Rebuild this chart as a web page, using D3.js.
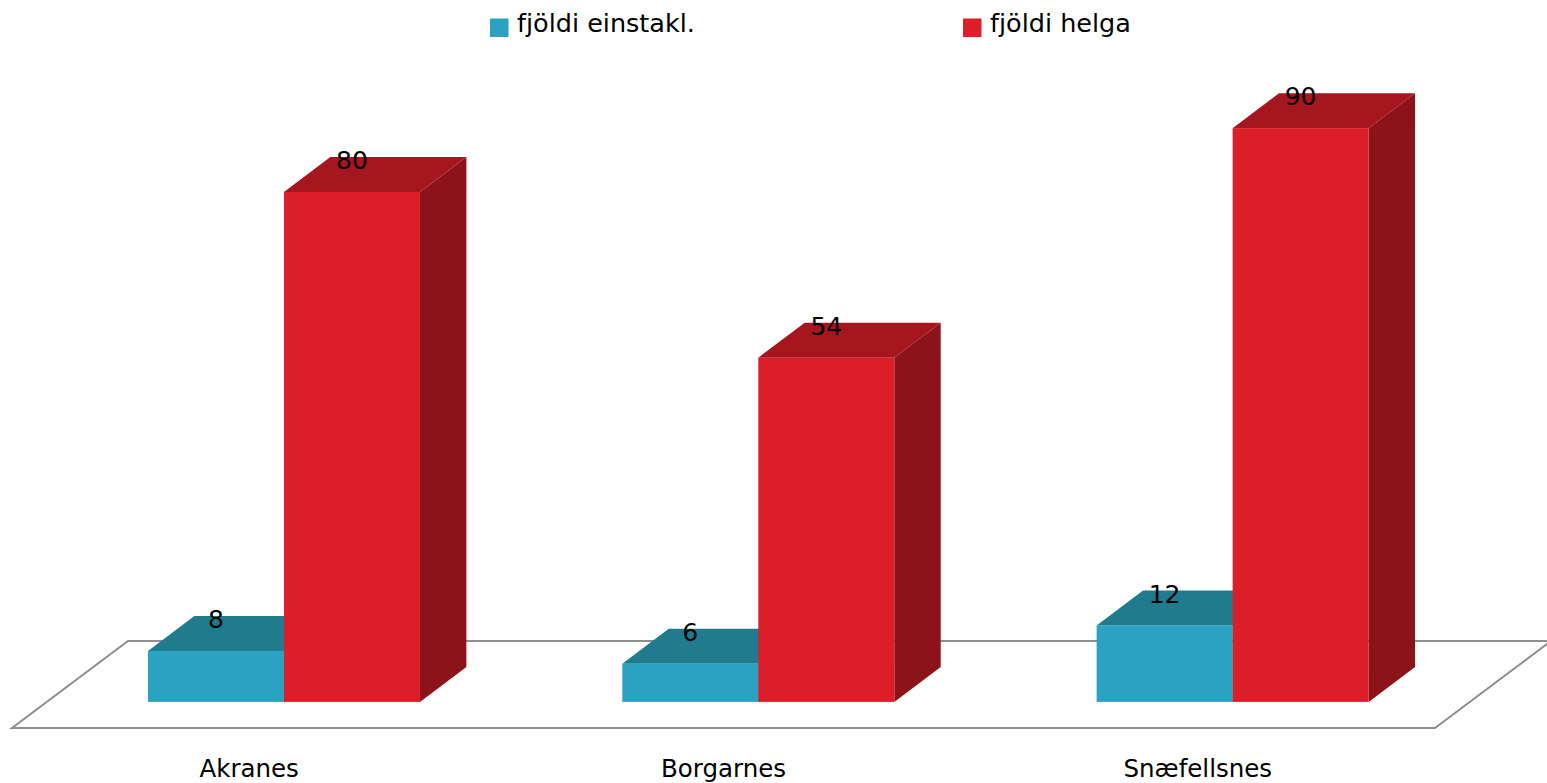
<!DOCTYPE html>
<html><head><meta charset="utf-8">
<script src="https://cdn.jsdelivr.net/npm/d3@7"></script>
<style>html,body{margin:0;padding:0;background:#fff;}svg{display:block;}</style>
</head><body>
<svg id="chart" width="1547" height="783"></svg>
<script>
const categories = ["Akranes", "Borgarnes", "Snæfellsnes"];
const seriesNames = ["fjöldi einstakl.", "fjöldi helga"];
const einstakl = [8, 6, 12];
const helga = [80, 54, 90];

const colors = [
  {front: "#2ba2c1", top: "#217b8f", side: "#1c6a7c"},
  {front: "#dc1e28", top: "#a6161f", side: "#8c1319"}
];
const values = [einstakl, helga];

const svg = d3.select("#chart");
const font = "DejaVu Sans, Verdana, sans-serif";

// floor geometry (front edge, depth offset)
const floorFront = 728, floorDX = 116, floorDY = 87;
const x = d3.scaleBand().domain(categories).range([12, 1435]).padding(0);
const frontFrac = 0.3, depthFrac = 0.4;
const sx = floorDX * frontFrac, sy = floorDY * frontFrac; // shift to bar front plane
const bdx = floorDX * depthFrac, bdy = floorDY * depthFrac;
const baseY = floorFront - sy;
const y = d3.scaleLinear().domain([0, 100]).range([baseY, baseY - 637.5]);
const barW = 136;

// floor
const [x0, x1] = x.range();
svg.append("path")
  .attr("d", `M${x0},${floorFront}L${x1},${floorFront}L${x1 + floorDX},${floorFront - floorDY}L${x0 + floorDX},${floorFront - floorDY}Z`)
  .attr("fill", "#fff").attr("stroke", "#8e8e8e").attr("stroke-width", 2);

// bars
const g = svg.append("g");
categories.forEach((c, i) => {
  const center = x(c) + x.bandwidth() / 2 + sx;
  const gx0 = center - barW;
  values.forEach((vals, s) => {
    const v = vals[i];
    const bx = gx0 + s * barW;
    const top = y(v);
    const col = colors[s];
    // side
    g.append("path")
      .attr("d", `M${bx + barW},${top}L${bx + barW + bdx},${top - bdy}L${bx + barW + bdx},${baseY - bdy}L${bx + barW},${baseY}Z`)
      .attr("fill", col.side);
    // top
    g.append("path")
      .attr("d", `M${bx},${top}L${bx + bdx},${top - bdy}L${bx + barW + bdx},${top - bdy}L${bx + barW},${top}Z`)
      .attr("fill", col.top);
    // front
    g.append("rect")
      .attr("x", bx).attr("y", top).attr("width", barW).attr("height", baseY - top)
      .attr("fill", col.front);
    // label
    g.append("text")
      .attr("x", bx + barW / 2).attr("y", top - bdy + 12)
      .attr("text-anchor", "middle")
      .attr("font-family", font).attr("font-size", 25).attr("fill", "#000")
      .text(v);
  });
});

// category labels
svg.append("g").selectAll("text").data(categories).join("text")
  .attr("x", d => x(d) + x.bandwidth() / 2)
  .attr("y", 777)
  .attr("text-anchor", "middle")
  .attr("font-family", font).attr("font-size", 24.5).attr("fill", "#000")
  .text(d => d);

// legend
const legendX = [490, 963];
const legend = svg.append("g");
seriesNames.forEach((n, s) => {
  legend.append("rect").attr("x", legendX[s]).attr("y", 18.5).attr("width", 18.5).attr("height", 18.5)
    .attr("fill", colors[s].front);
  legend.append("text").attr("x", legendX[s] + 27).attr("y", 32)
    .attr("font-family", font).attr("font-size", 25.5).attr("fill", "#000")
    .text(n);
});
</script>
</body></html>
